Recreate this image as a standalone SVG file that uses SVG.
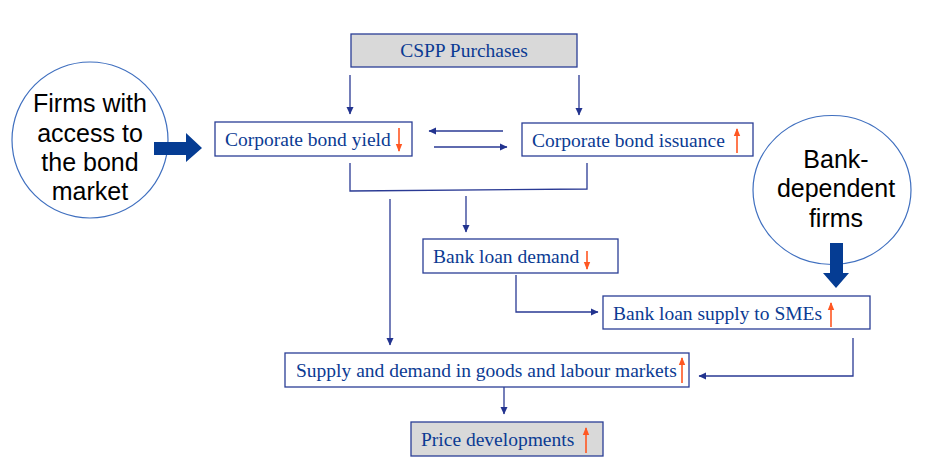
<svg xmlns="http://www.w3.org/2000/svg" width="930" height="471" viewBox="0 0 930 471">
<defs>
<marker id="ah" markerWidth="8" markerHeight="8" refX="7" refY="4" orient="auto" markerUnits="userSpaceOnUse">
<path d="M0,0.5 L7.5,4 L0,7.5 Z" fill="#22338f"/>
</marker>
<marker id="oh" markerWidth="8" markerHeight="9" refX="7" refY="4" orient="auto" markerUnits="userSpaceOnUse">
<path d="M0,0.8 L8,4 L0,7.2 Z" fill="#ff5722"/>
</marker>
</defs>
<style>
.box{fill:#ffffff;stroke:#2a3e96;stroke-width:1.3}
.grey{fill:#d9d9d9;stroke:#2a3e96;stroke-width:1.3}
.t{font-family:"Liberation Serif","Times New Roman",serif;font-size:19.5px;fill:#0b3b93}
.c{font-family:"Liberation Sans",Arial,sans-serif;font-size:25px;fill:#000000;text-anchor:middle}
.circ{fill:#ffffff;stroke:#3f6fbf;stroke-width:1.2}
.ln{fill:none;stroke:#2a3a94;stroke-width:1.3}
.or{stroke:#ff5722;stroke-width:1.6;fill:none}
.thick{fill:#053c93}
</style>
<rect width="930" height="471" fill="#ffffff"/>
<g id="firms-bond">
<circle class="circ" cx="90" cy="140" r="78"/>
<text class="c" x="90" y="112">Firms with</text>
<text class="c" x="90" y="142">access to</text>
<text class="c" x="90" y="171">the bond</text>
<text class="c" x="90" y="200">market</text>
</g>
<g id="bank-dependent">
<ellipse class="circ" cx="832" cy="190" rx="79" ry="74.5"/>
<text class="c" x="836" y="168">Bank-</text>
<text class="c" x="836" y="197">dependent</text>
<text class="c" x="836" y="227">firms</text>
</g>
<g id="connectors">
<line class="ln" x1="350" y1="75" x2="350" y2="114" marker-end="url(#ah)"/>
<line class="ln" x1="579" y1="75" x2="579" y2="115" marker-end="url(#ah)"/>
<line class="ln" x1="503" y1="131" x2="429" y2="131" marker-end="url(#ah)"/>
<line class="ln" x1="434" y1="147" x2="507" y2="147" marker-end="url(#ah)"/>
<polyline class="ln" points="350,163 350,191 587,189 587,163"/>
<line class="ln" x1="466" y1="196" x2="466" y2="232" marker-end="url(#ah)"/>
<line class="ln" x1="390" y1="199" x2="390" y2="345" marker-end="url(#ah)"/>
<polyline class="ln" points="516,275 516,312 598,312" marker-end="url(#ah)"/>
<polyline class="ln" points="853,338 853,376 699,376" marker-end="url(#ah)"/>
<line class="ln" x1="504" y1="387" x2="504" y2="414" marker-end="url(#ah)"/>
<path class="thick" d="M154,142 L186,142 L186,133 L202,148 L186,162 L186,155 L154,155 Z"/>
<path class="thick" d="M830,243 L843,243 L843,273 L849,273 L836,288 L823,273 L830,273 Z"/>
</g>
<g id="cspp">
<rect class="grey" x="351" y="34" width="226" height="33"/>
<text class="t" x="464" y="57" text-anchor="middle">CSPP Purchases</text>
</g>
<g id="yield">
<rect class="box" x="215" y="122" width="197" height="34"/>
<text class="t" x="225" y="146">Corporate bond yield</text>
<line class="or" x1="399" y1="128" x2="399" y2="151" marker-end="url(#oh)"/>
</g>
<g id="issuance">
<rect class="box" x="522" y="123" width="231" height="33"/>
<text class="t" x="532" y="147">Corporate bond issuance</text>
<line class="or" x1="737" y1="153" x2="737" y2="129" marker-end="url(#oh)"/>
</g>
<g id="loan-demand">
<rect class="box" x="423" y="239" width="195" height="34"/>
<text class="t" x="433" y="263">Bank loan demand</text>
<line class="or" x1="587" y1="251" x2="587" y2="269" marker-end="url(#oh)"/>
</g>
<g id="loan-supply">
<rect class="box" x="603" y="296" width="267" height="33"/>
<text class="t" x="613" y="320">Bank loan supply to SMEs</text>
<line class="or" x1="831" y1="327" x2="831" y2="303" marker-end="url(#oh)"/>
</g>
<g id="supply-demand">
<rect class="box" x="285" y="353" width="404" height="34"/>
<text class="t" x="296" y="377">Supply and demand in goods and labour markets</text>
<line class="or" x1="682" y1="383" x2="682" y2="358" marker-end="url(#oh)"/>
</g>
<g id="price">
<rect class="grey" x="411" y="422" width="192" height="34"/>
<text class="t" x="421" y="446">Price developments</text>
<line class="or" x1="586" y1="453" x2="586" y2="428" marker-end="url(#oh)"/>
</g>
</svg>
